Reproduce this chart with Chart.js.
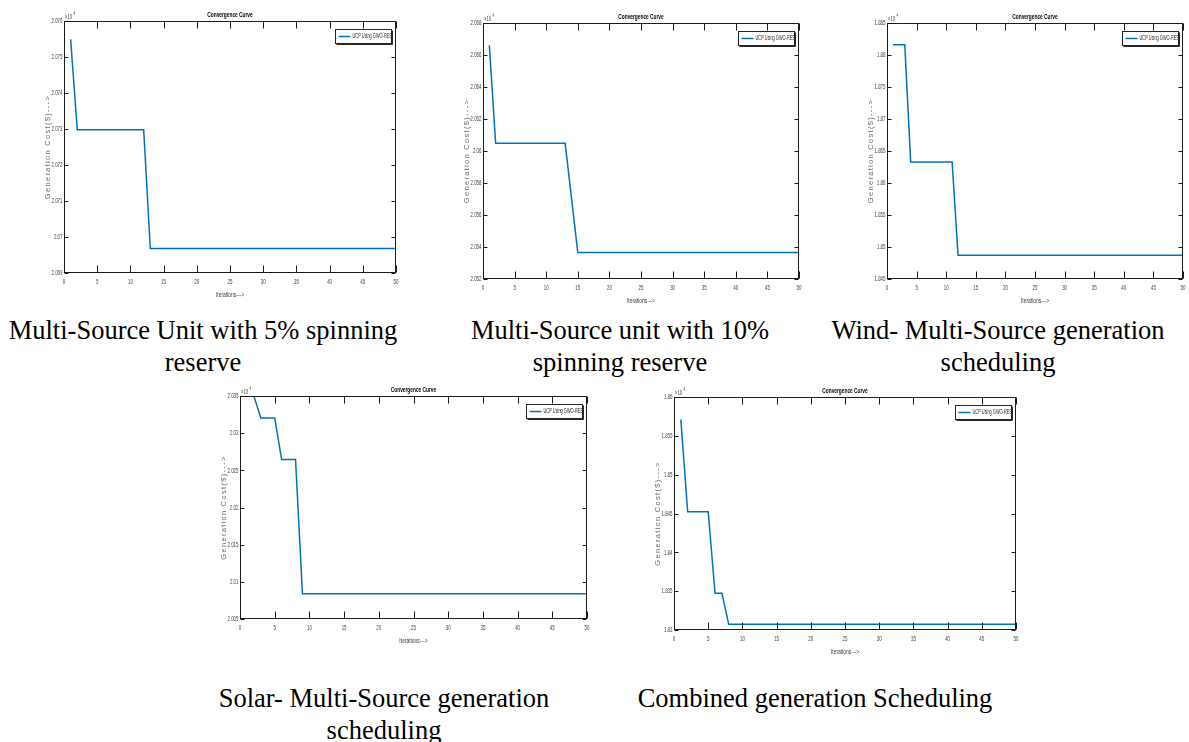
<!DOCTYPE html>
<html>
<head>
<meta charset="utf-8">
<script src="https://cdn.jsdelivr.net/npm/chart.js@4.4.0/dist/chart.umd.min.js"></script>
<style>
  body { margin: 0; width: 1189px; height: 742px; background: #fff; position: relative; overflow: hidden; }
  canvas { position: absolute; }
  .cap { position: absolute; width: 500px; text-align: center; white-space: nowrap;
         font: 26.5px 'Liberation Serif', 'Times New Roman', serif; line-height: 32px; color: #000; }
</style>
</head>
<body>
<div class="cap" style="left:-47px;top:314px">Multi-Source Unit with 5% spinning<br>reserve</div>
<div class="cap" style="left:370px;top:314px">Multi-Source unit with 10%<br>spinning reserve</div>
<div class="cap" style="left:748px;top:314px">Wind- Multi-Source generation<br>scheduling</div>
<div class="cap" style="left:134px;top:682px">Solar- Multi-Source generation<br>scheduling</div>
<div class="cap" style="left:565px;top:682px">Combined generation Scheduling</div>

<script>
// iterations are only the corner points of each step curve, cost in units of 10^4 $
const xTicks = [0, 5, 10, 15, 20, 25, 30, 35, 40, 45, 50];

const iters5pct = [1, 2, 12, 13, 50];
const cost5pct = [2.07549, 2.07298, 2.07298, 2.06968, 2.06968];
const yTicks5pct = [2.069, 2.07, 2.071, 2.072, 2.073, 2.074, 2.075, 2.076];

const iters10pct = [1, 2, 13, 14, 15, 50];
const cost10pct = [2.06661, 2.06048, 2.06048, 2.05707, 2.05366, 2.05366];
const yTicks10pct = [2.052, 2.054, 2.056, 2.058, 2.06, 2.062, 2.064, 2.066, 2.068];

const itersWind = [1, 3, 4, 11, 12, 50];
const costWind = [1.88161, 1.88161, 1.86328, 1.86328, 1.8487, 1.8487];
const yTicksWind = [1.845, 1.85, 1.855, 1.86, 1.865, 1.87, 1.875, 1.88, 1.885];

const itersSolar = [1, 2, 3, 5, 6, 8, 9, 50];
const costSolar = [2.035, 2.035, 2.03205, 2.03205, 2.02645, 2.02645, 2.0084, 2.0084];
const yTicksSolar = [2.005, 2.01, 2.015, 2.02, 2.025, 2.03, 2.035];

const itersComb = [1, 2, 5, 6, 7, 8, 50];
const costComb = [1.85708, 1.84522, 1.84522, 1.83473, 1.83473, 1.83073, 1.83073];
const yTicksComb = [1.83, 1.835, 1.84, 1.845, 1.85, 1.855, 1.86];

const seriesLabel = 'UCP Using GWO-RES';
const plotTitle = 'Convergence Curve';
const xTitle = 'Iterations--->';
const yTitle = 'Generation Cost($)--->';
const lineColor = '#0072BD';
const sans = "'Liberation Sans', Arial, sans-serif";

// plot boxes on the page: left, top, right, bottom
const panels = [
  { box: [64, 21, 396, 273], iters: iters5pct, cost: cost5pct, yTicks: yTicks5pct },
  { box: [483, 23, 799, 279], iters: iters10pct, cost: cost10pct, yTicks: yTicks10pct },
  { box: [887, 23, 1183, 279], iters: itersWind, cost: costWind, yTicks: yTicksWind },
  { box: [240, 396, 587, 619], iters: itersSolar, cost: costSolar, yTicks: yTicksSolar },
  { box: [674, 397, 1016, 630], iters: itersComb, cost: costComb, yTicks: yTicksComb },
];

const PAD_LEFT = 32, PAD_TOP = 15, PAD_RIGHT = 10, PAD_BOTTOM = 28;

const fmt = (v) => String(Number(v.toFixed(4)));

// the source figure is squashed sideways, so text is drawn narrowed
const squeezed = (ctx, text, x, y, sx, align, baseline) => {
  ctx.save();
  ctx.translate(x, y);
  ctx.scale(sx, 1);
  ctx.textAlign = align;
  ctx.textBaseline = baseline;
  ctx.fillText(text, 0, 0);
  ctx.restore();
};

// matlab style frame: full box, inward ticks on all sides, labels, x10^4 note, legend inside
const matlabAxes = {
  id: 'matlabAxes',
  afterDraw(chart) {
    const { ctx, chartArea: a, scales } = chart;
    const l = Math.round(a.left) + 0.5, r = Math.round(a.right) - 0.5;
    const t = Math.round(a.top) + 0.5, b = Math.round(a.bottom) - 0.5;
    ctx.save();
    ctx.strokeStyle = '#1a1a1a';
    ctx.lineWidth = 1;
    ctx.beginPath();
    scales.x.ticks.forEach((tk) => {
      const px = Math.round(scales.x.getPixelForValue(tk.value)) + 0.5;
      ctx.moveTo(px, b); ctx.lineTo(px, b - 7);
      ctx.moveTo(px, t); ctx.lineTo(px, t + 7);
    });
    scales.y.ticks.forEach((tk) => {
      const py = Math.round(scales.y.getPixelForValue(tk.value)) + 0.5;
      ctx.moveTo(l, py); ctx.lineTo(l + 4, py);
      ctx.moveTo(r, py); ctx.lineTo(r - 4, py);
    });
    ctx.stroke();
    ctx.strokeRect(l, t, r - l, b - t);

    // tick labels
    ctx.fillStyle = '#404040';
    ctx.font = '8px ' + sans;
    scales.x.ticks.forEach((tk) => {
      squeezed(ctx, fmt(tk.value), scales.x.getPixelForValue(tk.value), b + 9.5, 0.55, 'center', 'middle');
    });
    scales.y.ticks.forEach((tk) => {
      squeezed(ctx, fmt(tk.value), l - 2, scales.y.getPixelForValue(tk.value), 0.55, 'right', 'middle');
    });

    // title and axis titles
    ctx.fillStyle = '#000';
    ctx.font = 'bold 8px ' + sans;
    squeezed(ctx, plotTitle, (l + r) / 2, t - 7, 0.6, 'center', 'middle');
    ctx.fillStyle = '#404040';
    ctx.font = '8px ' + sans;
    squeezed(ctx, xTitle, (l + r) / 2, b + 22, 0.62, 'center', 'middle');

    ctx.save();
    ctx.fillStyle = '#6a6a6a';
    ctx.font = '7.5px ' + sans;
    ctx.letterSpacing = '1.3px';
    ctx.translate(l - 17, (t + b) / 2);
    ctx.rotate(-Math.PI / 2);
    ctx.textAlign = 'center';
    ctx.textBaseline = 'middle';
    ctx.fillText(yTitle, 0, 0);
    ctx.restore();

    // exponent note
    ctx.fillStyle = '#404040';
    ctx.font = '7px ' + sans;
    squeezed(ctx, '\u00d710', l + 0.5, t - 3, 0.6, 'left', 'alphabetic');
    ctx.font = '5px ' + sans;
    squeezed(ctx, '4', l + 9, t - 6.5, 0.6, 'left', 'alphabetic');

    // legend
    const ds = chart.data.datasets[0];
    const lw = 56, lh = 14;
    const lx = Math.round(a.right) - 5 - lw + 0.5, ly = Math.round(a.top) + 8 + 0.5;
    ctx.fillStyle = '#fff';
    ctx.fillRect(lx, ly, lw, lh);
    ctx.strokeStyle = '#262626';
    ctx.lineWidth = 1;
    ctx.strokeRect(lx, ly, lw, lh);
    ctx.beginPath();
    ctx.moveTo(lx + 1, ly + lh + 1); ctx.lineTo(lx + lw + 1, ly + lh + 1); ctx.lineTo(lx + lw + 1, ly + 1);
    ctx.stroke();
    ctx.strokeStyle = ds.borderColor;
    ctx.lineWidth = 1.5;
    ctx.beginPath();
    ctx.moveTo(lx + 3, ly + lh / 2); ctx.lineTo(lx + 15, ly + lh / 2);
    ctx.stroke();
    ctx.fillStyle = '#262626';
    ctx.font = '6.5px ' + sans;
    squeezed(ctx, ds.label, lx + 17, ly + lh / 2, 0.6, 'left', 'middle');
    ctx.restore();
  }
};

panels.forEach((p) => {
  const [L, T, R, B] = p.box;
  const canvas = document.createElement('canvas');
  canvas.width = R - L + PAD_LEFT + PAD_RIGHT;
  canvas.height = B - T + PAD_TOP + PAD_BOTTOM;
  canvas.style.left = (L - PAD_LEFT) + 'px';
  canvas.style.top = (T - PAD_TOP) + 'px';
  document.body.appendChild(canvas);

  new Chart(canvas.getContext('2d'), {
    type: 'line',
    data: {
      datasets: [{
        label: seriesLabel,
        data: p.iters.map((x, i) => ({ x, y: p.cost[i] })),
        borderColor: lineColor,
        borderWidth: 1.5,
        pointRadius: 0,
        fill: false,
        tension: 0,
      }]
    },
    options: {
      responsive: false,
      animation: false,
      devicePixelRatio: 1,
      layout: { padding: { left: 0, top: PAD_TOP, right: PAD_RIGHT, bottom: 0 } },
      plugins: {
        legend: { display: false },
        tooltip: { enabled: false },
        title: { display: false },
      },
      scales: {
        x: {
          type: 'linear',
          min: xTicks[0],
          max: xTicks[xTicks.length - 1],
          afterBuildTicks: (s) => { s.ticks = xTicks.map((v) => ({ value: v })); },
          afterFit: (s) => { s.height = PAD_BOTTOM; },
          grid: { display: false, drawTicks: false },
          border: { display: false },
          ticks: { display: false },
        },
        y: {
          type: 'linear',
          min: p.yTicks[0],
          max: p.yTicks[p.yTicks.length - 1],
          afterBuildTicks: (s) => { s.ticks = p.yTicks.map((v) => ({ value: v })); },
          afterFit: (s) => { s.width = PAD_LEFT; },
          grid: { display: false, drawTicks: false },
          border: { display: false },
          ticks: { display: false },
        },
      },
    },
    plugins: [matlabAxes],
  });
});
</script>
</body>
</html>
